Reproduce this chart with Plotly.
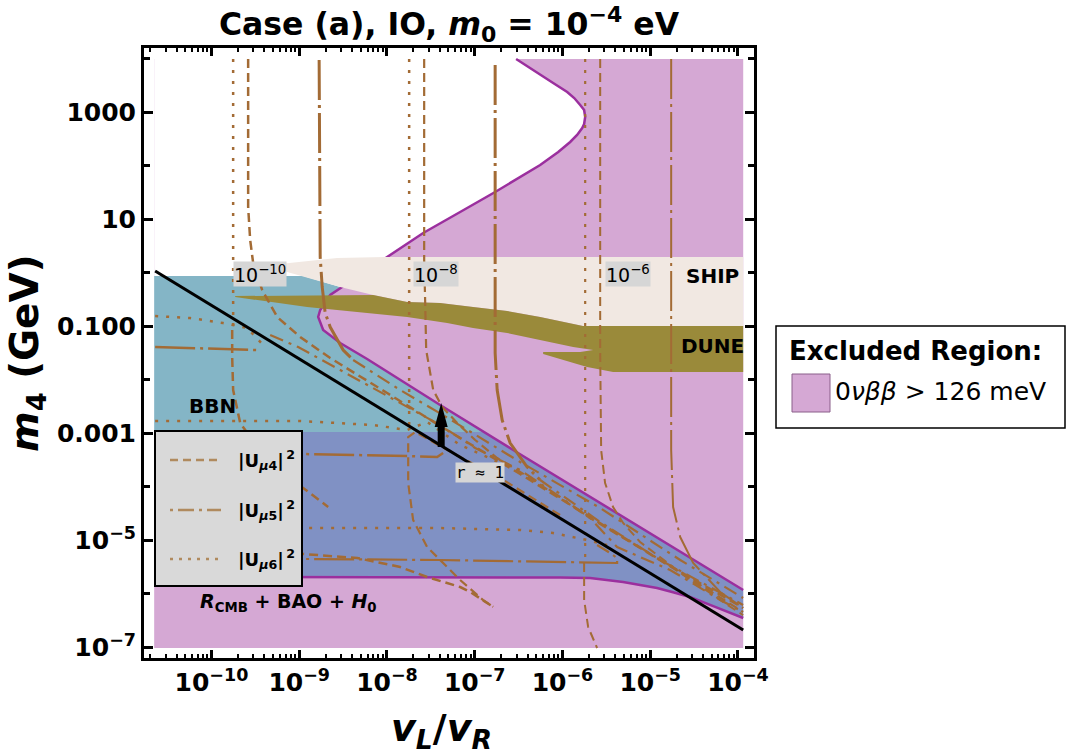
import numpy as np
import plotly.graph_objects as go

# All curves are stored as log10(vL/vR) and log10(m4/GeV)
rect_x = [-10.653, -3.94, -3.94, -10.653]
rect_y = [-7.013, -7.013, 3.996, 3.996]

upper_x = [-6.528, -6.254, -6.106, -5.946, -5.866, -5.798, -5.753, -5.741, -5.753, -5.775, -5.833, -5.912, -6.048, -6.254, -6.767, -7.166, -7.587, -7.998,
           -8.533, -8.647, -8.761, -8.784, -8.727, -8.533, -8.226, -7.394, -6.562, -5.343, -4.546, -3.94]
upper_y = [3.996, 3.697, 3.548, 3.379, 3.267, 3.137, 3.043, 2.912, 2.781, 2.707, 2.576, 2.445, 2.258, 2.015, 1.51, 1.136, 0.744, 0.295,
           -0.284, -0.415, -0.695, -0.826, -1.069, -1.312, -1.611, -2.471, -3.312, -4.527, -5.312, -5.929]
lower_x = [-10.653, -7.394, -6.448, -6.027, -5.685, -5.309, -5.115, -4.922, -4.75, -4.546, -4.26, -3.94]
lower_y = [-5.686, -5.686, -5.686, -5.695, -5.705, -5.78, -5.836, -5.892, -5.966, -6.06, -6.246, -6.452]

bbn_x = [-10.653, -8.955, -8.533, -8.647, -8.761, -8.784, -8.727, -8.533, -8.226, -7.394, -6.894, -10.653]
bbn_y = [-0.06, -0.06, -0.264, -0.415, -0.695, -0.826, -1.069, -1.312, -1.611, -2.471, -2.976, -2.976]
blue_x = [-10.653, -6.894, -6.562, -5.343, -4.546, -3.94]
blue_y = [-2.976, -2.976, -3.312, -4.527, -5.312, -5.929]

ship_x = [-9.33, -8.568, -8.021, -3.94, -3.94, -5.766, -6.254, -6.631, -7.019, -7.394, -7.77, -8.157, -8.533, -8.955, -9.137]
ship_y = [0.146, 0.277, 0.295, 0.295, -0.994, -0.994, -0.826, -0.714, -0.64, -0.565, -0.546, -0.415, -0.264, -0.06, 0.015]
dune_x = [-9.73, -8.157, -7.77, -7.394, -7.019, -6.631, -6.254, -5.766, -3.94, -3.94, -5.423, -5.719, -6.22, -6.22,
          -5.798, -5.65, -5.878, -6.254, -6.631, -7.019, -7.314, -7.77, -8.91, -9.73]
dune_y = [-0.434, -0.415, -0.546, -0.565, -0.64, -0.714, -0.826, -0.994, -0.994, -1.854, -1.854, -1.76, -1.517, -1.48,
          -1.48, -1.443, -1.387, -1.256, -1.125, -1.032, -0.938, -0.826, -0.639, -0.452]

black_x = [-10.642, -3.94]
black_y = [0.034, -6.677]
arrow_x = [-7.382, -7.382]
arrow_y = [-3.256, -2.8]
head_x = [-7.456, -7.308, -7.382]
head_y = [-2.882, -2.882, -2.433]

# (style, width, x, y)
curves = [
    ("dash", 2.5, [-9.582, -9.582, -9.559, -9.525, -9.422, -9.251, -8.989, -8.647, -7.998, -7.28, -6.482, -5.57, -4.887, -3.941],
     [3.996, 1.23, 0.613, 0.183, -0.322, -0.826, -1.2, -1.593, -2.247, -2.976, -3.761, -4.677, -5.368, -6.265]),
    ("dashdot", 3, [-8.773, -8.761, -8.738, -8.704, -8.647, -8.499, -8.385],
     [3.978, 0.295, -0.265, -0.751, -1.013, -1.443, -1.63]),
    ("band", 2.2, [-8.385, -7.85, -7.382, -6.482, -5.57, -4.658, -3.941],
     [-1.63, -2.19, -2.639, -3.537, -4.397, -5.368, -6.078]),
    ("dot", 2.5, [-9.753, -9.753], [3.996, -1.07]),
    ("dash", 2.5, [-9.764, -9.764, -9.753, -9.673, -9.331, -8.955, -8.67], [-1.07, -1.574, -2.191, -2.807, -3.592, -4.022, -4.377]),
    ("dot", 2.5, [-10.642, -10.243, -9.867, -9.593, -9.388], [-0.808, -0.845, -0.939, -1.032, -1.387]),
    ("dashdot", 2.5, [-10.642, -9.479], [-1.387, -1.443]),
    ("band", 2.2, [-9.331, -9.012, -8.533, -8.078, -7.394, -6.995, -6.482, -6.027, -5.685, -5.377, -5.081, -4.773, -4.579, -4.203, -3.941],
     [-1.163, -1.387, -1.817, -2.228, -2.845, -3.275, -3.686, -4.191, -4.584, -5.126, -5.331, -5.555, -5.742, -6.115, -6.34]),
    ("dot", 2.5, [-10.642, -8.989, -8.157, -7.77, -7.542, -7.166, -6.71], [-2.77, -2.77, -2.845, -2.938, -2.789, -3.219, -3.555]),
    ("dashdot", 2.5, [-10.642, -8.955, -7.77, -7.428, -7.36], [-3.369, -3.387, -3.425, -3.443, -3.369]),
    ("dash", 2.2, [-7.576, -7.576, -7.565, -7.553, -7.473, -7.371, -7.2, -6.995, -6.744, -6.368, -5.685, -5.115, -4.431, -3.941],
     [3.996, 0.239, -0.509, -1.443, -2.191, -2.508, -2.807, -3.125, -3.462, -3.836, -4.584, -5.144, -5.835, -6.34]),
    ("dot", 2.5, [-7.747, -7.747], [3.996, -2.938]),
    ("dash", 2.2, [-6.027, -6.71, -7.166, -7.428, -7.679, -7.758, -7.758, -7.702, -7.542, -7.314, -7.166, -6.904, -6.79],
     [-4.528, -3.836, -3.443, -3.2, -2.976, -3.069, -3.929, -4.62, -5.125, -5.499, -5.742, -6.117, -6.244]),
    ("dash", 2.5, [-10.642, -8.955, -8.34, -7.85, -7.542, -7.166, -7.052, -6.904, -6.79],
     [-5.2, -5.256, -5.331, -5.499, -5.686, -5.873, -5.966, -6.117, -6.244]),
    ("dot", 2.5, [-10.642, -8.899, -7.394, -6.482, -6.106, -5.719, -5.491], [-4.752, -4.771, -4.771, -4.808, -4.864, -4.994, -5.088]),
    ("dashdot", 2.2, [-10.642, -8.955, -7.394, -6.061, -5.491, -5.377, -5.377, -5.457, -5.605],
     [-5.349, -5.349, -5.368, -5.405, -5.424, -5.424, -5.331, -5.237, -5.088]),
    ("dashdot", 3, [-6.767, -6.767, -6.744, -6.687, -6.596, -6.402, -6.254],
     [3.884, -1.499, -2.191, -2.752, -3.182, -3.63, -3.873]),
    ("band", 2.2, [-6.254, -5.57, -4.887, -3.941], [-3.873, -4.658, -5.368, -6.209]),
    ("dot", 2.2, [-5.741, -5.741], [3.996, -5.424]),
    ("dash", 2, [-5.753, -5.753, -5.707, -5.605], [-5.424, -6.116, -6.621, -7.013]),
    ("dash", 2, [-5.57, -5.57, -5.559, -5.514, -5.423, -5.309, -5.115, -4.967, -4.807, -4.545, -4.397, -4.169, -3.941],
     [3.996, -1.443, -3.312, -3.929, -4.378, -4.677, -5.032, -5.219, -5.405, -5.742, -5.892, -6.154, -6.397]),
    ("dashdot", 2, [-4.761, -4.761, -4.739, -4.658, -4.51, -4.283, -4.203, -3.941],
     [3.996, -3.312, -4.378, -4.939, -5.424, -5.835, -5.966, -6.265]),
]

x_ticks = [-10, -9, -8, -7, -6, -5, -4]
y_ticks = [3, 1, -1, -3, -5, -7]
y_labels = ["1000", "10", "0.100", "0.001", "10<sup>−5</sup>", "10<sup>−7</sup>"]
y_minor = [4, 2, 0, -2, -4, -6]
legend_names = ["|U<sub><i>μ</i>4</sub>|<sup>\u20092</sup>",
                "|U<sub><i>μ</i>5</sub>|<sup>\u20092</sup>",
                "|U<sub><i>μ</i>6</sub>|<sup>\u20092</sup>"]

PURPLE = "#d5a8d4"
EDGE = "#9b2f9e"
BROWN = "#a36b35"
FONT = "DejaVu Sans"
DASHES = {"dash": "9px,5px", "dashdot": "40px,5px,3px,5px", "band": "14px,6px,3px,6px", "dot": "3px,8px"}

W, H = 1067, 754
L, R, T, B = 144, 754, 48, 658


def px(x):
    return (x - L) / (R - L)


def py(y):
    return (B - y) / (B - T)


def area(x, y, color):
    return go.Scatter(x=10.0 ** np.array(x), y=10.0 ** np.array(y), mode="lines", fill="toself",
                      fillcolor=color, line=dict(width=0), hoverinfo="skip")


fig = go.Figure()

fig.add_trace(area(rect_x, rect_y, PURPLE))
fig.add_trace(area(upper_x + lower_x[::-1] + [-10.653], upper_y + lower_y[::-1] + [3.996], "white"))
fig.add_trace(area(bbn_x, bbn_y, "#84b5c6"))
fig.add_trace(area(blue_x + lower_x[::-1], blue_y + lower_y[::-1], "#8091c4"))

for bx, by in [(upper_x, upper_y), (lower_x, lower_y)]:
    fig.add_trace(go.Scatter(x=10.0 ** np.array(bx), y=10.0 ** np.array(by), mode="lines",
                             line=dict(color=EDGE, width=2.5), hoverinfo="skip"))

fig.add_trace(area(ship_x, ship_y, "#f1e8e2"))
fig.add_trace(area(dune_x, dune_y, "#9a8a3a"))

for style, width, cx, cy in curves:
    fig.add_trace(go.Scatter(x=10.0 ** np.array(cx), y=10.0 ** np.array(cy), mode="lines",
                             line=dict(color=BROWN, width=width, dash=DASHES[style]), hoverinfo="skip"))

fig.add_trace(go.Scatter(x=10.0 ** np.array(black_x), y=10.0 ** np.array(black_y), mode="lines",
                         line=dict(color="black", width=3), hoverinfo="skip"))
fig.add_trace(go.Scatter(x=10.0 ** np.array(arrow_x), y=10.0 ** np.array(arrow_y), mode="lines",
                         line=dict(color="black", width=7), hoverinfo="skip"))
fig.add_trace(area(head_x, head_y, "black"))

# Boite de legende interne et legende exterieure
shapes = [
    dict(type="rect", xref="paper", yref="paper", x0=px(155), x1=px(302), y0=py(586), y1=py(431),
         fillcolor="#d9d9d9", line=dict(color="black", width=2)),
    dict(type="rect", xref="paper", yref="paper", x0=px(776), x1=px(1065), y0=py(428), y1=py(326),
         fillcolor="white", line=dict(color="black", width=1.5)),
    dict(type="rect", xref="paper", yref="paper", x0=px(792), x1=px(830), y0=py(412), y1=py(374),
         fillcolor=PURPLE, line=dict(color="#8a5f8a", width=1)),
]
for style, yy in zip(["dash", "dashdot", "dot"], [460, 510, 559]):
    shapes.append(dict(type="line", xref="paper", yref="paper", x0=px(170), x1=px(221), y0=py(yy), y1=py(yy),
                       line=dict(color="#b08a5e", width=2.5,
                                 dash={"dash": "8px,5px", "dashdot": "3px,5px,16px,5px", "dot": "3px,6px"}[style])))


def text(x, y, s, size, color="black", family=FONT, xanchor="center", **kw):
    return dict(xref="paper", yref="paper", x=px(x), y=py(y), text=s, showarrow=False,
                xanchor=xanchor, yanchor="middle",
                font=dict(size=size, color=color, family=family), **kw)


annotations = [
    text(212, 406, "<b>BBN</b>", 20),
    text(712, 276, "<b>SHIP</b>", 20),
    text(712, 346, "<b>DUNE</b>", 20),
    text(288, 602, "<b><i>R</i><sub>CMB</sub> + BAO + <i>H</i><sub>0</sub></b>", 19),
    text(260, 274, "10<sup>−10</sup>", 19, bgcolor="#d6d6d6", borderpad=0),
    text(436, 274, "10<sup>−8</sup>", 19, bgcolor="#d6d6d6", borderpad=0),
    text(628, 274, "10<sup>−6</sup>", 19, bgcolor="#d6d6d6", borderpad=0),
    text(480, 472, "r ≈ 1", 16, family="DejaVu Sans Mono", bgcolor="#d6d6d6", borderpad=0),
    text(787, 351, "<b>Excluded Region:</b>", 26, xanchor="left"),
    text(833, 391, "0<i>νββ</i> &gt; 126 meV", 25, xanchor="left"),
    text(449, 24, "<b>Case (a), IO, <i>m</i><sub>0</sub> = 10<sup>−4</sup> eV</b>", 31.5),
    text(441, 730, "<b><i>v<sub>L</sub></i>/<i>v<sub>R</sub></i></b>", 38),
    text(27, 353, "<b><i>m</i><sub>4</sub> (GeV)</b>", 39, textangle=-90),
]
for name, yy in zip(legend_names, [460, 510, 559]):
    annotations.append(text(236, yy, "<b>" + name + "</b>", 18, xanchor="left"))

fig.update_layout(
    width=W, height=H,
    margin=dict(l=L, r=W - R, t=T, b=H - B),
    paper_bgcolor="white", plot_bgcolor="white",
    showlegend=False,
    font=dict(family=FONT, size=25, color="black"),
    shapes=shapes,
    annotations=annotations,
)
fig.update_xaxes(
    type="log", range=[-10.769, -3.817],
    tickvals=[10.0 ** t for t in x_ticks],
    ticktext=["<b>10<sup>−%d</sup></b>" % abs(t) for t in x_ticks],
    ticks="inside", ticklen=8, tickwidth=2.5, tickcolor="black",
    minor=dict(tickvals=[m * 10.0 ** d for d in range(-11, -3) for m in range(2, 10)],
               ticks="inside", ticklen=4, tickwidth=1.5, tickcolor="black"),
    showline=True, linewidth=3, linecolor="black", mirror="allticks", showgrid=False, zeroline=False,
    tickfont=dict(size=25),
)
fig.update_yaxes(
    type="log", range=[-7.2, 4.202],
    tickvals=[10.0 ** t for t in y_ticks],
    ticktext=["<b>%s</b>" % t for t in y_labels],
    ticks="inside", ticklen=9, tickwidth=2.5, tickcolor="black",
    minor=dict(tickvals=[10.0 ** t for t in y_minor],
               ticks="inside", ticklen=6, tickwidth=2.5, tickcolor="black"),
    showline=True, linewidth=3, linecolor="black", mirror="allticks", showgrid=False, zeroline=False,
    tickfont=dict(size=25),
)

fig.write_html("out.html", config=dict(displayModeBar=False), post_script="document.body.style.margin='0';")
